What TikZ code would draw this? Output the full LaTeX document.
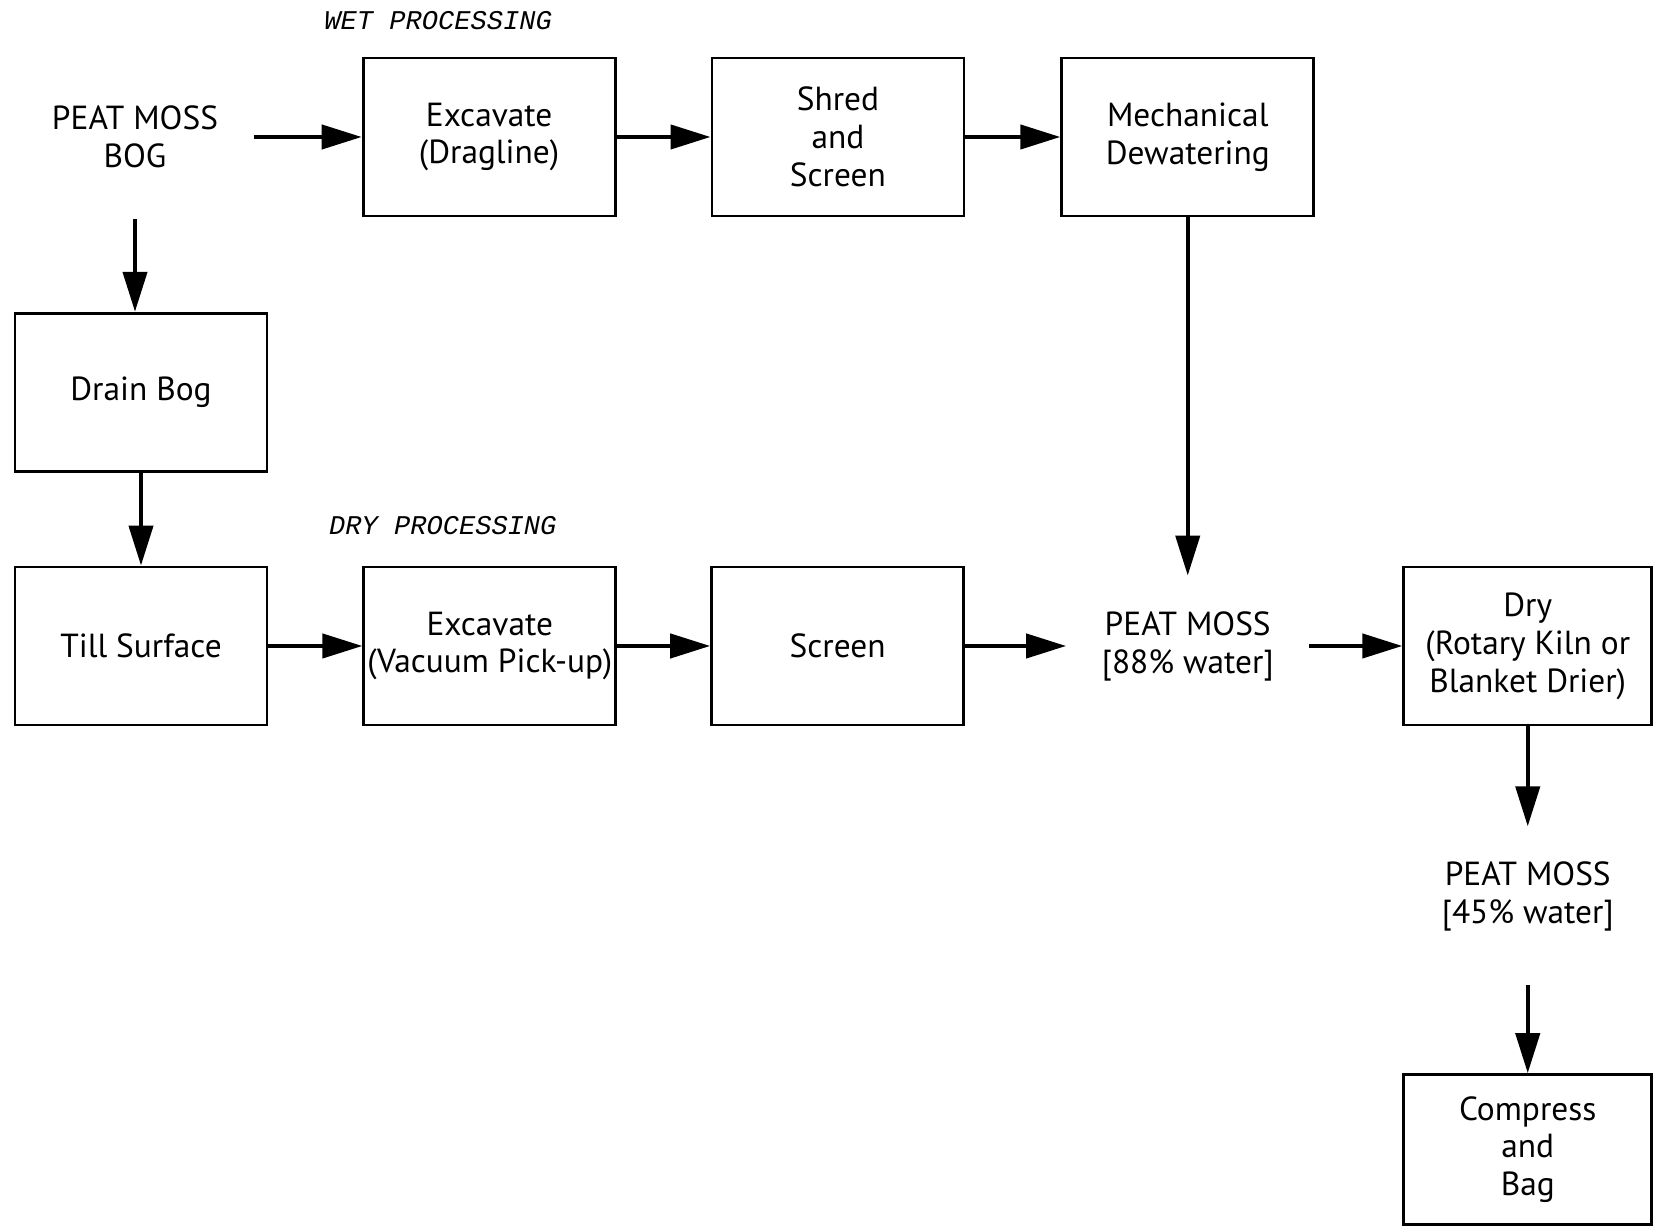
\documentclass[tikz,border=0pt]{standalone}
\usepackage{fontspec}
\setsansfont{PT Sans}
\setmonofont{Liberation Mono}
\usetikzlibrary{arrows.meta,positioning}
\newcommand\pmfont{\sffamily\fontsize{9.5}{10.8}\selectfont}
\newcommand\pmlabfont{\ttfamily\itshape\fontsize{7.7}{9}\selectfont}
\tikzset{
  box/.style={draw,line width=0.8pt,minimum width=25.2mm,minimum height=15.8mm,
              align=center,inner sep=0.5pt,font=\pmfont},
  txt/.style={align=center,inner sep=3.5mm,font=\pmfont},
  ar/.style={-{Triangle[length=4mm,width=2.4mm]},line width=1.2pt},
  lab/.style={font=\pmlabfont,inner sep=0pt},
}

\begin{document}
\begin{tikzpicture}[node distance=9.4mm]
      \useasboundingbox (0,0) rectangle (16.54,-12.28);
      % wet processing row
      \node[txt] (bog) at (1.35,-1.37) {PEAT MOSS\\BOG};
      \node[box,right=10.8mm of bog] (exdrag) {Excavate\\(Dragline)};
      \node[box,right=of exdrag] (shred) {Shred\\and\\Screen};
      \node[box,right=9.5mm of shred] (mech) {Mechanical\\Dewatering};
      \node[lab,above=2.6mm of exdrag,xshift=-5.1mm] (wet) {WET PROCESSING};
      % dry processing row
      \node[box,below=10.8mm of bog,xshift=0.6mm] (drain) {Drain Bog};
      \node[box,below=9.3mm of drain] (till) {Till Surface};
      \node[box,right=of till] (exvac) {Excavate\\(Vacuum Pick-up)};
      \node[box,right=9.3mm of exvac] (screen) {Screen};
      \node[lab,above=3mm of exvac,xshift=-4.7mm] (dry-lab) {DRY PROCESSING};
      \node[txt] (peat88) at (mech |- screen) {PEAT MOSS\\{[}88\% water{]}};
      \node[box,right=9.3mm of peat88,minimum width=24.8mm] (dry) {Dry\\(Rotary Kiln or\\Blanket Drier)};
      \node[txt,below=10mm of dry] (peat45) {PEAT MOSS\\{[}45\% water{]}};
      \node[box,below=10.6mm of peat45,minimum width=24.8mm,minimum height=15mm] (bag) {Compress\\and\\Bag};
      % connectors
      \draw[ar](bog)--(exdrag);\draw[ar](exdrag)--(shred);\draw[ar](shred)--(mech);
      \draw[ar,shorten <=1.5mm](bog.south)--(bog.south |- drain.north);
      \draw[ar](drain)--(till);
      \draw[ar](till)--(exvac);\draw[ar](exvac)--(screen);\draw[ar](screen)--(peat88);
      \draw[ar](mech)--(peat88);\draw[ar](peat88)--(dry);
      \draw[ar](dry.south)--(dry.south |- peat45.north);
      \draw[ar,shorten <=1.8mm](peat45.south -| bag.north)--(bag.north);
    \end{tikzpicture}
\end{document}
